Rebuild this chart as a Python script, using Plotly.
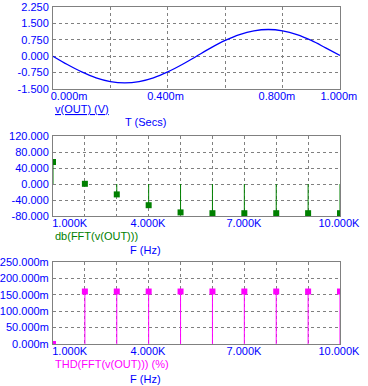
import plotly.graph_objects as go

# ---------------- data ----------------
t_ms = [0.00, 0.05, 0.10, 0.15, 0.20, 0.25, 0.30, 0.35, 0.40, 0.45, 0.50,
        0.55, 0.60, 0.65, 0.70, 0.75, 0.80, 0.85, 0.90, 0.95, 1.00]
v_out = [0.00, -0.38, -0.72, -0.99, -1.16, -1.22, -1.16, -0.99, -0.72, -0.38, 0.00,
         0.38, 0.72, 0.99, 1.16, 1.22, 1.16, 0.99, 0.72, 0.38, 0.03]

freq_hz = [1000, 2000, 3000, 4000, 5000, 6000, 7000, 8000, 9000, 10000]
db_fft = [55, 0.5, -26, -53, -71, -73, -73, -73, -73, -73]
thd_pct = [0.0, 0.16, 0.16, 0.16, 0.16, 0.16, 0.16, 0.16, 0.16, 0.16]

# tick / grid definitions
t_grid = [0.2, 0.4, 0.6, 0.8]
t_label_pos = [0.056, 0.392, 0.78, 0.996]
t_label_txt = ["0.000m", "0.400m", "0.800m", "1.000m"]
v_ticks = [-1.5, -0.75, 0.0, 0.75, 1.5, 2.25]
v_ticktext = ["-1.500", "-0.750", "0.000", "0.750", "1.500", "2.250"]

f_grid = [2000, 3000, 4000, 5000, 6000, 7000, 8000, 9000]
f_label_pos = [1523, 3978, 6987, 9966]
f_label_txt = ["1.000K", "4.000K", "7.000K", "10.000K"]
db_ticks = [-80, -40, 0, 40, 80, 120]
db_ticktext = ["-80.000", "-40.000", "0.000", "40.000", "80.000", "120.000"]
thd_ticks = [0.0, 0.05, 0.10, 0.15, 0.20, 0.25]
thd_ticktext = ["0.000m", "50.000m", "100.000m", "150.000m", "200.000m", "250.000m"]

# ---------------- style ----------------
W, H = 368, 386
BLUE = "#0000FF"
GREEN = "#008000"
MAGENTA = "#FF00FF"
GRID = "#808080"
FONT = "Liberation Sans, Arial, sans-serif"


def px_x(p):
    return p / W


def px_y(p):
    return 1 - p / H


def stems(xs, ys):
    sx, sy = [], []
    for x, y in zip(xs, ys):
        sx += [x, x, None]
        sy += [0, y, None]
    return sx, sy


fig = go.Figure()

fig.add_trace(go.Scatter(x=t_ms, y=v_out, mode="lines", line=dict(color=BLUE, width=1.3, shape="spline"),
                         xaxis="x", yaxis="y", showlegend=False))

sx, sy = stems(freq_hz, db_fft)
fig.add_trace(go.Scatter(x=sx, y=sy, mode="lines", line=dict(color=GREEN, width=1),
                         xaxis="x2", yaxis="y2", showlegend=False))
fig.add_trace(go.Scatter(x=freq_hz, y=db_fft, mode="markers",
                         marker=dict(symbol="square", size=6, color=GREEN),
                         xaxis="x2", yaxis="y2", showlegend=False))

sx, sy = stems(freq_hz, thd_pct)
fig.add_trace(go.Scatter(x=sx, y=sy, mode="lines", line=dict(color=MAGENTA, width=1),
                         xaxis="x3", yaxis="y3", showlegend=False))
fig.add_trace(go.Scatter(x=freq_hz, y=thd_pct, mode="markers",
                         marker=dict(symbol="square", size=6, color=MAGENTA),
                         xaxis="x3", yaxis="y3", showlegend=False))

xdom = [px_x(53), px_x(340)]
tickfont = dict(family=FONT, size=11, color=BLUE)


def xaxis_cfg(rng, grid, lpos, ltxt, anchor):
    return dict(domain=xdom, range=rng, anchor=anchor, automargin=False,
                tickmode="array", tickvals=lpos, ticktext=ltxt, ticks="", showgrid=False,
                tickfont=tickfont, showline=True, mirror=True, linecolor=GRID, linewidth=1,
                zeroline=False, fixedrange=True, ticklabelstandoff=-3,
                minor=dict(tickmode="array", tickvals=grid, showgrid=True, gridcolor=GRID,
                           griddash="3px,3px", gridwidth=1, ticks=""))


def yaxis_cfg(dom, rng, tv, tt, anchor):
    return dict(domain=dom, range=rng, anchor=anchor, automargin=False,
                tickmode="array", tickvals=tv, ticktext=tt,
                ticks="", showgrid=True, gridcolor=GRID, griddash="3px,3px", gridwidth=1,
                tickfont=tickfont, showline=True, mirror=True, linecolor=GRID, linewidth=1,
                zeroline=False, fixedrange=True, ticklabelstandoff=1)


fig.update_layout(
    width=W, height=H, margin=dict(l=0, r=0, t=0, b=0, autoexpand=False),
    paper_bgcolor="white", plot_bgcolor="white", template="none",
    font=dict(family=FONT, size=11, color=BLUE),
    xaxis=xaxis_cfg([0, 1.0], t_grid, t_label_pos, t_label_txt, "y"),
    yaxis=yaxis_cfg([px_y(89), px_y(7)], [-1.5, 2.25], v_ticks, v_ticktext, "x"),
    xaxis2=xaxis_cfg([1000, 10000], f_grid, f_label_pos, f_label_txt, "y2"),
    yaxis2=yaxis_cfg([px_y(216), px_y(136)], [-80, 120], db_ticks, db_ticktext, "x2"),
    xaxis3=xaxis_cfg([1000, 10000], f_grid, f_label_pos, f_label_txt, "y3"),
    yaxis3=yaxis_cfg([px_y(344), px_y(262)], [0, 0.25], thd_ticks, thd_ticktext, "x3"),
)

ann = [
    ("<u>v(OUT) (V)</u>", 53, 109, "left", BLUE),
    ("T (Secs)", 145, 122, "center", BLUE),
    ("db(FFT(v(OUT)))", 53, 236, "left", GREEN),
    ("F (Hz)", 145, 250, "center", BLUE),
    ("THD(FFT(v(OUT))) (%)", 53, 364, "left", MAGENTA),
    ("F (Hz)", 145, 379, "center", BLUE),
]
for text, x, y, anc, col in ann:
    fig.add_annotation(text=text, x=px_x(x), y=px_y(y), xref="paper", yref="paper",
                       xanchor=anc, yanchor="middle", showarrow=False,
                       font=dict(family=FONT, size=11, color=col))

fig.write_html("out.html", config={"displayModeBar": False},
               post_script="document.body.style.margin='0';document.body.style.overflow='hidden';")
